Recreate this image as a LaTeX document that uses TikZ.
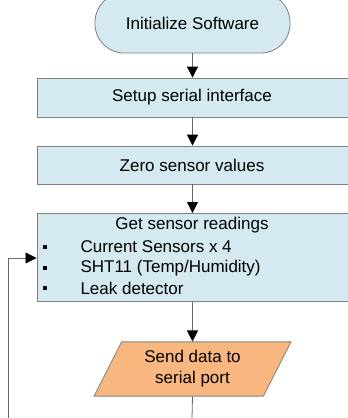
\documentclass[tikz,border=0pt]{standalone}
\usepackage{fontspec}
\setmainfont{Liberation Sans}
\usetikzlibrary{arrows.meta,shapes.geometric}
\definecolor{boxblue}{HTML}{D5EAF0}
\definecolor{boxorange}{HTML}{F8B77E}
\definecolor{edgegray}{HTML}{808080}
\begin{document}
\begin{tikzpicture}[x=1pt,y=-1pt,
  font=\fontsize{17}{20}\selectfont,
  boxstyle/.style={draw=edgegray, line width=0.8pt, fill=boxblue},
  flow/.style={draw=edgegray!80!black, line width=0.8pt, -{Triangle[black,width=11pt,length=11pt]}},
  plainline/.style={draw=edgegray!80!black, line width=0.8pt}]
\useasboundingbox (0,0) rectangle (348,418);
% nodes
\node[boxstyle, rounded corners=29pt, minimum width=195pt, minimum height=60pt, inner sep=0pt] (init) at (192.5,23) {Initialize Software};
\node[boxstyle, minimum width=318pt, minimum height=39pt, inner sep=0pt, anchor=west] (setup) at (36.5,97.5) {};
\node at (192,97.5) {Setup serial interface};
\node[boxstyle, minimum width=318pt, minimum height=38pt, inner sep=0pt, anchor=west] (zero) at (36.5,165) {};
\node at (192,165) {Zero sensor values};
\node[boxstyle, minimum width=318pt, minimum height=88pt, inner sep=0pt, anchor=north west] (get) at (36.5,213) {};
\node (gettitle) at (192,225) {Get sensor readings};
\node[anchor=west] (i1) at (77,247) {Current Sensors x 4};
\node[anchor=west] (i2) at (77,268) {SHT11 (Temp/Humidity)};
\node[anchor=west] (i3) at (77,288) {Leak detector};
\foreach \yy in {247,268,288} {\fill (43,\yy-2.2) rectangle (47,\yy+2.2);}
\node[trapezium, trapezium left angle=63, trapezium right angle=117, draw=edgegray, line width=0.8pt, fill=boxorange, minimum width=197pt, minimum height=48pt, inner sep=0pt, align=center, font=\fontsize{17}{21}\selectfont] (send) at (192.5,369) {Send data to\\serial port};
\coordinate (bottomend) at (192,418);
\coordinate (loopstart) at (8,418);
\coordinate (loopcorner) at (8,258);
\coordinate (getin) at (36.5,258);
% connectors
\draw[flow] (init.south) -- (setup.north -| init.south);
\draw[flow] (setup.south -| init.south) -- (zero.north -| init.south);
\draw[flow] (zero.south -| init.south) -- (get.north -| init.south);
\draw[flow] (get.south -| init.south) -- (send.north);
\draw[plainline] (send.south) -- (bottomend);
\draw[flow] (loopstart) -- (loopcorner) -- (getin);
\end{tikzpicture}
\end{document}
